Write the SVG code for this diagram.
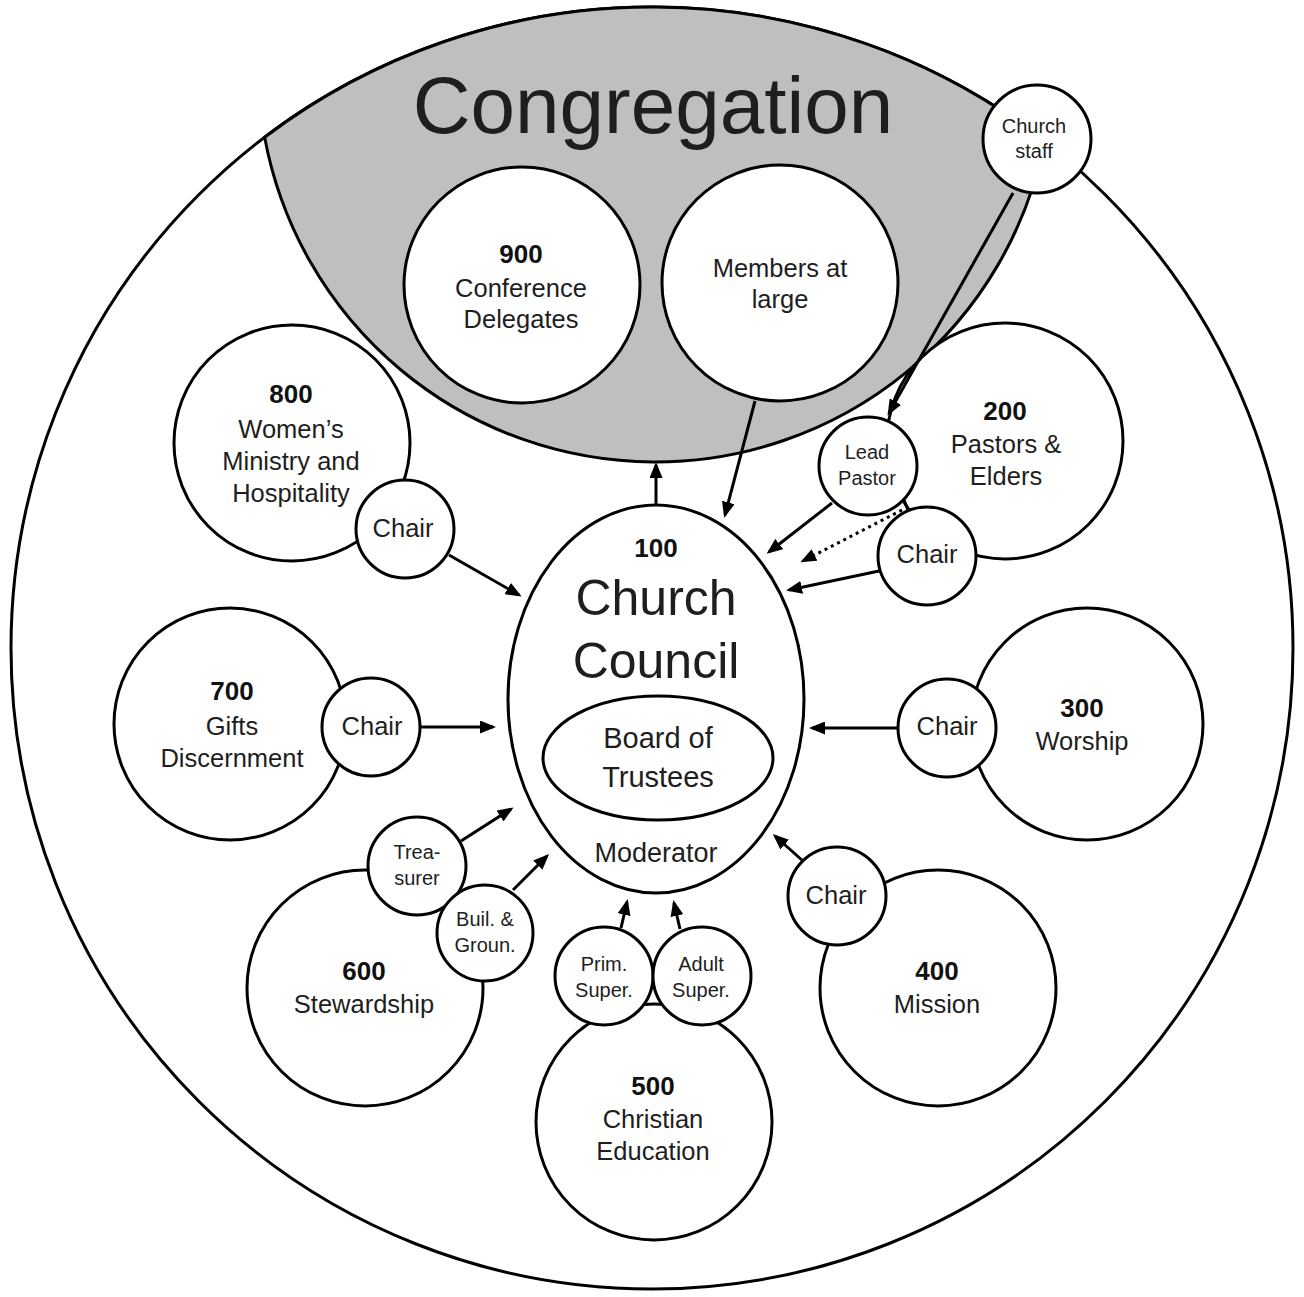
<svg xmlns="http://www.w3.org/2000/svg" width="1304" height="1297" viewBox="0 0 1304 1297">
<defs>
<style>
.n{fill:#fff;stroke:#000;stroke-width:3}
.t{font-family:"Liberation Sans",Arial,sans-serif;fill:#1e1e1e;text-anchor:middle}
.b{font-weight:bold;font-size:26px;fill:#111}
.d{font-size:25.5px}
.s{font-size:20px}
.c{stroke:#000;stroke-width:3;fill:none;marker-end:url(#ah)}
</style>
<marker id="ah" markerUnits="userSpaceOnUse" viewBox="0 0 16 13" markerWidth="16" markerHeight="13" refX="13" refY="6.5" orient="auto">
<path d="M0,0 L16,6.5 L0,13 z" fill="#000"/>
</marker>
</defs>
<rect width="1304" height="1297" fill="#fff"/>
<g id="outer"><circle class="n" cx="652" cy="648" r="641"/></g>
<g id="congregation">
<path d="M264.65 137.28 A397 397 0 0 0 1044.59 141.3 A641 641 0 0 0 264.65 137.28 Z" fill="#bfbfbf" stroke="#000" stroke-width="3"/>
<text class="t" x="653" y="133" font-size="80" fill="#111">Congregation</text>
</g>
<g id="n900"><circle class="n" cx="522" cy="285" r="118"/>
<text class="t b" x="521" y="263">900</text>
<text class="t d" x="521" y="297">Conference</text>
<text class="t d" x="521" y="328">Delegates</text></g>
<g id="members"><circle class="n" cx="780" cy="283" r="118"/>
<text class="t d" x="780" y="277">Members at</text>
<text class="t d" x="780" y="308">large</text></g>
<g id="n800"><circle class="n" cx="292" cy="443" r="118"/>
<text class="t b" x="291" y="403">800</text>
<text class="t d" x="291" y="438">Women’s</text>
<text class="t d" x="291" y="470">Ministry and</text>
<text class="t d" x="291" y="502">Hospitality</text></g>
<g id="n200"><circle class="n" cx="1005" cy="441" r="118"/>
<text class="t b" x="1005" y="420">200</text>
<text class="t d" x="1006" y="453">Pastors &amp;</text>
<text class="t d" x="1006" y="485">Elders</text></g>
<g id="n700"><circle class="n" cx="230" cy="724" r="116"/>
<text class="t b" x="232" y="700">700</text>
<text class="t d" x="232" y="735">Gifts</text>
<text class="t d" x="232" y="767">Discernment</text></g>
<g id="n300"><circle class="n" cx="1087" cy="724" r="116"/>
<text class="t b" x="1082" y="717">300</text>
<text class="t d" x="1082" y="750">Worship</text></g>
<g id="n600"><circle class="n" cx="365" cy="988" r="118"/>
<text class="t b" x="364" y="980">600</text>
<text class="t d" x="364" y="1013">Stewardship</text></g>
<g id="n500"><circle class="n" cx="654" cy="1122" r="118"/>
<text class="t b" x="653" y="1095">500</text>
<text class="t d" x="653" y="1128">Christian</text>
<text class="t d" x="653" y="1160">Education</text></g>
<g id="n400"><circle class="n" cx="938" cy="988" r="118"/>
<text class="t b" x="937" y="980">400</text>
<text class="t d" x="937" y="1013">Mission</text></g>
<g id="council"><ellipse class="n" cx="656" cy="699" rx="148" ry="194"/>
<text class="t b" x="656" y="557" font-size="25">100</text>
<text class="t" x="656" y="615" font-size="50">Church</text>
<text class="t" x="656" y="678" font-size="50">Council</text>
<text class="t" x="656" y="862" font-size="27">Moderator</text></g>
<g id="trustees"><ellipse class="n" cx="658" cy="758" rx="115" ry="62"/>
<text class="t" x="658" y="748" font-size="29">Board of</text>
<text class="t" x="658" y="787" font-size="29">Trustees</text></g>
<g id="staff"><circle class="n" cx="1037" cy="139" r="54"/>
<text class="t s" x="1034" y="133">Church</text>
<text class="t s" x="1034" y="158">staff</text></g>
<g id="chair800"><circle class="n" cx="405" cy="529" r="49"/>
<text class="t d" x="403" y="537">Chair</text></g>
<g id="leadpastor"><circle class="n" cx="868" cy="466" r="49"/>
<text class="t s" x="867" y="459">Lead</text>
<text class="t s" x="867" y="485">Pastor</text></g>
<g id="chair200"><circle class="n" cx="927" cy="556" r="49"/>
<text class="t d" x="927" y="563">Chair</text></g>
<g id="chair700"><circle class="n" cx="371" cy="727" r="49"/>
<text class="t d" x="372" y="735">Chair</text></g>
<g id="chair300"><circle class="n" cx="947" cy="728" r="49"/>
<text class="t d" x="947" y="735">Chair</text></g>
<g id="chair400"><circle class="n" cx="837" cy="896" r="49"/>
<text class="t d" x="836" y="904">Chair</text></g>
<g id="treasurer"><circle class="n" cx="417" cy="866" r="49"/>
<text class="t s" x="417" y="859">Trea-</text>
<text class="t s" x="417" y="885">surer</text></g>
<g id="buildings"><circle class="n" cx="485" cy="933" r="48"/>
<text class="t s" x="485" y="926">Buil. &amp;</text>
<text class="t s" x="485" y="952">Groun.</text></g>
<g id="prim"><circle class="n" cx="604" cy="976" r="49"/>
<text class="t s" x="604" y="971">Prim.</text>
<text class="t s" x="604" y="997">Super.</text></g>
<g id="adult"><circle class="n" cx="702" cy="976" r="49"/>
<text class="t s" x="701" y="971">Adult</text>
<text class="t s" x="701" y="997">Super.</text></g>
<g id="connectors">
<line class="c" x1="1013" y1="193" x2="889" y2="413"/>
<line class="c" x1="755" y1="401" x2="725" y2="515"/>
<line class="c" x1="656" y1="506" x2="656" y2="465"/>
<line class="c" x1="832" y1="503" x2="769" y2="552"/>
<line stroke="#000" stroke-width="3" x1="904" y1="500" x2="908" y2="510"/>
<line class="c" stroke-dasharray="3 4" x1="902" y1="510" x2="803" y2="561"/>
<line class="c" x1="879" y1="571" x2="789" y2="590"/>
<line class="c" x1="449" y1="555" x2="519" y2="595"/>
<line class="c" x1="420" y1="727" x2="493" y2="727"/>
<line class="c" x1="898" y1="728" x2="812" y2="728"/>
<line class="c" x1="803" y1="861" x2="775" y2="836"/>
<line class="c" x1="621" y1="928" x2="627" y2="902"/>
<line class="c" x1="680" y1="929" x2="674" y2="903"/>
<line class="c" x1="461" y1="841" x2="511" y2="809"/>
<line class="c" x1="513" y1="890" x2="547" y2="856"/>
</g>
</svg>
